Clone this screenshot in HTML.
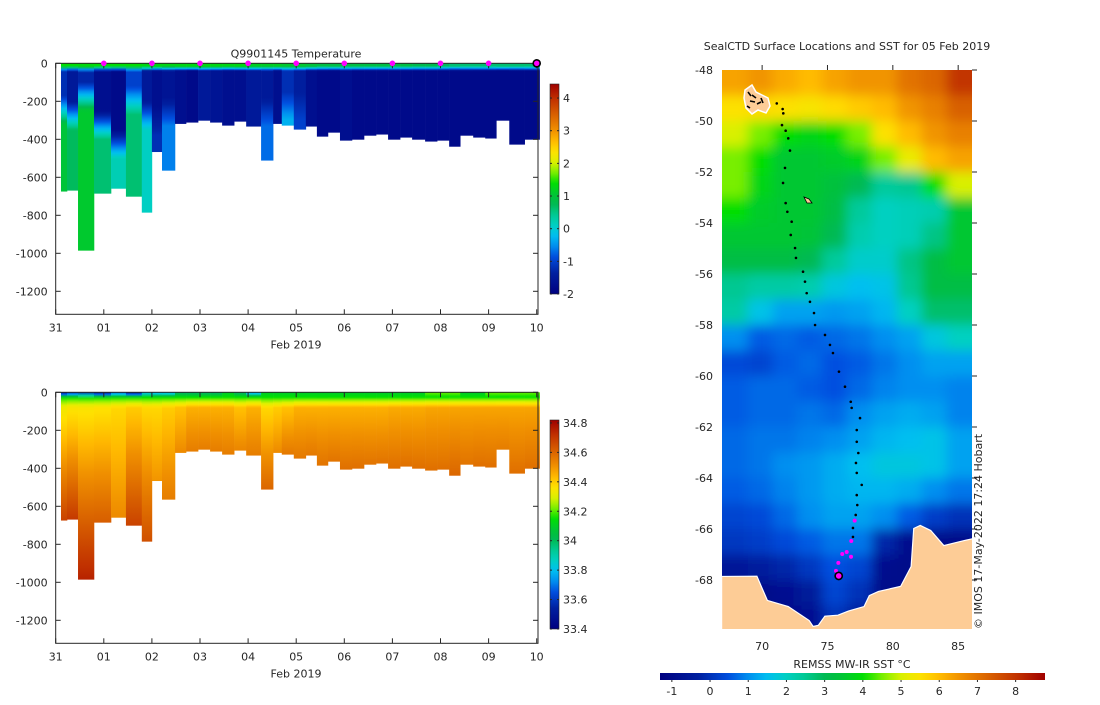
<!DOCTYPE html>
<html><head><meta charset="utf-8">
<style>
body{margin:0;background:#fff;}
svg text{font-family:"DejaVu Sans","Liberation Sans",sans-serif;font-size:11px;fill:#262626;}
</style></head>
<body>
<svg id="fig" width="1100" height="700" viewBox="0 0 1100 700" xmlns="http://www.w3.org/2000/svg">
<defs>
<clipPath id="mapclip"><rect x="722" y="70" width="250" height="559"/></clipPath>
<filter id="blur" x="-5%" y="-5%" width="110%" height="110%"><feGaussianBlur stdDeviation="6"/></filter>
</defs>
<g id="top"></g>
<g id="bot"></g>
<g id="map"></g>
</svg>
<script>
// ---- profile chart data ----
const colStart=[0.11,0.235,0.464,0.796,1.15,1.46,1.79,2.00,2.21,2.48,2.71,2.96,3.21,3.46,3.71,3.96,4.27,4.52,4.70,4.95,5.20,5.43,5.66,5.91,6.16,6.41,6.66,6.91,7.16,7.41,7.68,7.93,8.18,8.41,8.68,8.93,9.16,9.43,9.75];
const colEnd=[0.235,0.464,0.796,1.15,1.46,1.79,2.00,2.21,2.48,2.71,2.96,3.21,3.46,3.71,3.96,4.27,4.52,4.70,4.95,5.20,5.43,5.66,5.91,6.16,6.41,6.66,6.91,7.16,7.41,7.68,7.93,8.18,8.41,8.68,8.93,9.16,9.43,9.75,10.06];
const maxDepth=[675,670,986,686,660,702,786,467,565,319,312,302,312,328,307,333,512,319,328,349,333,386,365,407,402,381,375,402,391,402,412,407,439,381,391,396,302,428,402];
const tSurf=[1.4,1.4,1.4,1.4,1.4,1.4,1.3,1.3,1.3,1.3,1.3,1.3,1.3,1.3,1.3,1.2,1.2,1.2,1.1,1.1,1.0,0.9,0.9,0.9,0.9,0.9,0.9,0.9,0.9,0.8,0.8,0.7,0.6,0.6,0.6,0.6,0.6,0.6,0.6];
const tMin=[-1.2,-1.5,-1.3,-1.7,-1.8,-1.0,-1.5,-1.7,-1.6,-1.7,-1.8,-1.5,-1.6,-1.7,-1.7,-1.5,-1.5,-1.7,-1.2,-1.4,-1.7,-1.8,-1.8,-1.7,-1.8,-1.8,-1.8,-1.8,-1.8,-1.8,-1.8,-1.8,-1.8,-1.8,-1.8,-1.8,-1.8,-1.8,-1.8];
const thermoDepth=[170,200,100,250,350,120,200,230,180,999,999,999,999,999,999,999,180,999,150,150,999,999,999,999,999,999,999,999,999,999,999,999,999,999,999,999,999,999,999];
const tDeep=[1.0,0.7,1.1,0.6,0.2,0.6,0.1,-1.2,-0.6,-1.7,-1.7,-1.7,-1.7,-1.7,-1.7,-1.7,-0.7,-1.7,-0.3,-1.0,-1.7,-1.7,-1.7,-1.7,-1.7,-1.7,-1.7,-1.7,-1.7,-1.7,-1.7,-1.7,-1.7,-1.7,-1.7,-1.7,-1.7,-1.7,-1.7];
const sSurf=[33.5,33.6,33.6,33.5,33.7,33.5,33.8,33.8,33.8,34.0,34.0,34.0,34.0,34.1,34.0,33.8,34.1,34.1,34.1,34.1,34.1,34.1,34.1,34.1,34.1,34.1,34.1,34.1,34.1,34.1,34.2,34.2,34.2,34.1,34.1,34.2,34.2,34.2,34.2];
const sMid=[34.33,34.35,34.35,34.36,34.38,34.4,34.38,34.38,34.4,34.42,34.45,34.45,34.45,34.45,34.42,34.45,34.38,34.4,34.42,34.45,34.45,34.45,34.45,34.45,34.45,34.45,34.45,34.46,34.46,34.46,34.47,34.47,34.47,34.47,34.47,34.47,34.47,34.47,34.47];
const sDeep=[34.68,34.7,34.75,34.62,34.52,34.68,34.65,34.5,34.55,34.52,34.55,34.55,34.55,34.55,34.53,34.55,34.6,34.52,34.56,34.56,34.56,34.57,34.57,34.58,34.58,34.57,34.57,34.58,34.58,34.58,34.58,34.58,34.6,34.57,34.58,34.58,34.55,34.58,34.58];
const dayTicks=[0,1,2,3,4,5,6,7,8,9,10];
const dayLabels=['31','01','02','03','04','05','06','07','08','09','10'];
const depthTicks=[0,-200,-400,-600,-800,-1000,-1200];
const tBarTicks=[4,3,2,1,0,-1,-2];
const sBarTicks=[34.8,34.6,34.4,34.2,34,33.8,33.6,33.4];
const markerDays=[1,2,3,4,5,6,7,8,9];
// ---- map data ----
const gridLon=[67.95,69.85,71.75,73.65,75.55,77.45,79.35,81.25,83.15,85.05];
const gridLat=[-48.5,-49.5,-50.5,-51.5,-52.5,-53.5,-54.5,-55.5,-56.5,-57.5,-58.5,-59.5,-60.5,-61.5,-62.5,-63.5,-64.5,-65.5,-66.5,-67.5,-68.5,-69.5];
const sst=[
[6.3,6.5,6.2,6.0,6.3,6.5,6.5,7.0,7.2,8.0],
[5.5,5.6,5.5,5.4,5.6,5.8,6.0,6.5,6.8,7.3],
[5.0,4.5,4.0,3.8,4.0,4.5,5.5,6.0,6.5,6.8],
[4.5,4.0,3.5,3.5,3.6,3.8,4.5,5.2,6.0,6.3],
[4.5,3.8,3.5,3.5,3.3,3.0,2.4,2.5,4.0,5.0],
[4.0,3.6,3.5,3.5,3.2,2.4,2.0,2.1,2.2,3.5],
[3.5,3.5,3.5,3.4,3.0,2.2,2.0,2.1,2.6,3.5],
[3.2,3.2,3.2,3.0,2.4,1.9,1.9,2.6,3.2,3.5],
[2.5,2.3,2.3,2.2,1.7,1.5,1.6,2.5,3.2,3.2],
[2.3,1.6,1.2,1.2,1.1,1.2,1.4,2.0,2.8,2.8],
[1.0,0.6,0.7,0.6,0.7,0.8,1.0,1.2,1.7,2.0],
[0.4,0.3,0.6,0.7,0.5,0.6,0.8,1.0,1.2,1.2],
[0.6,0.7,0.7,0.6,0.5,0.7,0.9,1.0,1.0,0.9],
[0.6,0.7,0.7,0.8,0.7,1.0,1.2,1.3,1.2,0.9],
[0.7,0.8,0.8,0.9,1.0,1.2,1.4,1.5,1.6,1.2],
[0.7,0.8,1.0,1.1,1.3,1.5,1.7,1.7,1.6,1.2],
[0.6,0.7,0.9,1.1,1.3,1.4,1.4,1.3,1.0,0.8],
[0.3,0.4,0.7,1.0,1.2,1.2,1.0,0.6,0.2,0.0],
[0.1,0.2,0.4,0.6,0.8,0.8,-0.2,-0.9,-1.0,-1.0],
[-0.6,-0.4,-0.2,0.1,0.5,0.3,-0.9,-1.0,-1.0,-1.0],
[-1.0,-1.0,-0.8,-0.5,0.3,0.0,-1.0,-1.0,-1.0,-1.0],
[-1.0,-1.0,-1.0,-0.8,0.0,-0.5,-1.0,-1.0,-1.0,-1.0]];
const trackLon=[71.12,71.57,71.62,71.52,71.80,72.00,72.13,71.75,71.60,71.80,71.93,72.26,72.19,72.52,72.59,73.13,73.28,73.41,73.66,73.97,74.05,74.81,75.19,75.42,75.88,76.34,76.78,76.85,77.49,77.24,77.24,77.36,77.18,77.24,77.62,77.24,77.28,77.16,76.95,76.95];
const trackLat=[-49.31,-49.53,-49.70,-50.16,-50.38,-50.68,-51.16,-51.84,-52.43,-53.22,-53.56,-53.95,-54.47,-54.98,-55.37,-55.91,-56.30,-56.75,-57.09,-57.53,-58.00,-58.39,-58.78,-59.10,-59.83,-60.42,-61.01,-61.25,-61.65,-62.12,-62.58,-63.02,-63.41,-63.80,-64.27,-64.67,-65.06,-65.45,-65.96,-66.31];
const recentLon=[77.08,76.82,76.47,76.13,76.80,75.83,75.65];
const recentLat=[-65.67,-66.47,-66.90,-66.98,-67.09,-67.33,-67.64];
const lastLon=[75.86], lastLat=[-67.84];
const landLon=[66.9,69.6,70.0,70.4,72.0,73.6,73.9,74.3,74.8,75.8,76.6,77.8,78.2,78.9,80.6,81.4,81.6,82.1,82.9,83.9,85.5,86.2,86.2,66.9];
const landLat=[-67.86,-67.85,-68.33,-68.8,-69.04,-69.59,-69.82,-69.78,-69.42,-69.38,-69.22,-69.04,-68.61,-68.45,-68.25,-67.47,-65.98,-65.86,-66.06,-66.65,-66.45,-66.37,-69.95,-69.95];
const latTicks=[-48,-50,-52,-54,-56,-58,-60,-62,-64,-66,-68];
const lonTicks=[70,75,80,85];
const sstTicks=[-1,0,1,2,3,4,5,6,7,8];

const NS='http://www.w3.org/2000/svg';
function mk(parent,tag,attrs,txt){const e=document.createElementNS(NS,tag);for(const k in attrs)e.setAttribute(k,attrs[k]);if(txt!==undefined)e.textContent=txt;parent.appendChild(e);return e;}
const CM=[[0,0,0,128],[0.1,0,32,160],[0.18,0,80,224],[0.23,0,144,240],[0.28,0,192,240],[0.33,0,208,192],[0.38,0,200,144],[0.43,0,184,80],[0.48,0,200,48],[0.53,0,224,0],[0.58,128,240,0],[0.63,224,240,0],[0.68,255,224,0],[0.73,255,184,0],[0.78,240,144,0],[0.83,224,112,0],[0.88,208,80,0],[0.93,192,48,0],[1,160,0,0]];
function jet(v){v=Math.max(0,Math.min(1,v));for(let k=1;k<CM.length;k++){if(v<=CM[k][0]){const a=CM[k-1],b=CM[k],f=(v-a[0])/(b[0]-a[0]);return `rgb(${Math.round(a[1]+f*(b[1]-a[1]))},${Math.round(a[2]+f*(b[2]-a[2]))},${Math.round(a[3]+f*(b[3]-a[3]))})`;}}return 'rgb(160,0,0)';}
const defs=document.querySelector('defs');

function section(g,id,y0,title,vmin,vmax,prof,barTicks,barFmt,barTop,barBot){
  const xL=55.7,xR=538,yBot=y0+251;
  const xs=d=>xL+d*48.1, ys=z=>y0+z*0.19;
  for(let i=0;i<colStart.length;i++){
    const gid=id+'g'+i;
    const lg=mk(defs,'linearGradient',{id:gid,x1:0,y1:0,x2:0,y2:1});
    const N=60;
    for(let k=0;k<=N;k++){const z=maxDepth[i]*k/N;mk(lg,'stop',{offset:(k/N),'stop-color':jet((prof(i,z)-vmin)/(vmax-vmin))});}
    const r=mk(g,'rect',{x:xs(colStart[i]),y:ys(0),width:xs(colEnd[i])-xs(colStart[i])+0.3,height:maxDepth[i]*0.19,fill:`url(#${gid})`});
    
    
  }
  const fr=mk(g,'rect',{x:xL,y:y0,width:xR-xL,height:yBot-y0,fill:'none',stroke:'#262626','stroke-width':1});
  
  depthTicks.forEach(t=>{const y=ys(-t);
    mk(g,'line',{x1:xL,x2:xL+5,y1:y,y2:y,stroke:'#262626'});mk(g,'line',{x1:xR,x2:xR-5,y1:y,y2:y,stroke:'#262626'});
    const tx=mk(g,'text',{x:xL-8,y:y+4,'text-anchor':'end'},String(t));
    });
  dayTicks.forEach((d,i)=>{const x=xs(d);
    mk(g,'line',{x1:x,x2:x,y1:yBot,y2:yBot-5,stroke:'#262626'});mk(g,'line',{x1:x,x2:x,y1:y0,y2:y0+5,stroke:'#262626'});
    const tx=mk(g,'text',{x:x,y:yBot+17,'text-anchor':'middle'},dayLabels[i]);
    });
  const xl=mk(g,'text',{x:296,y:yBot+34,'text-anchor':'middle'},'Feb 2019');
  
  if(title){const tt=mk(g,'text',{x:296,y:y0-6,'text-anchor':'middle'},title);
    }
  const cg=mk(defs,'linearGradient',{id:id+'cb',x1:0,y1:1,x2:0,y2:0});
  for(let k=0;k<=40;k++)mk(cg,'stop',{offset:k/40,'stop-color':jet(k/40)});
  const cb=mk(g,'rect',{x:550,y:barTop,width:9,height:barBot-barTop,fill:`url(#${id}cb)`,stroke:'#262626','stroke-width':0.6});
  
  barTicks.forEach(t=>{const y=barBot-(t-vmin)/(vmax-vmin)*(barBot-barTop);
    mk(g,'line',{x1:550,x2:552,y1:y,y2:y,stroke:'#262626'});mk(g,'line',{x1:557,x2:559,y1:y,y2:y,stroke:'#262626'});
    const tx=mk(g,'text',{x:563,y:y+4},barFmt(t));
    });
  return {xs,ys};
}
function lerpK(knots,z){for(let k=1;k<knots.length;k++){if(z<=knots[k][0]){const a=knots[k-1],b=knots[k];const f=(b[0]===a[0])?0:(z-a[0])/(b[0]-a[0]);return a[1]+f*(b[1]-a[1]);}}return knots[knots.length-1][1];}
function tProf(i,z){const th=thermoDepth[i];return lerpK([[0,tSurf[i]],[15,tSurf[i]],[40,tMin[i]],[th,tMin[i]],[th+150,tDeep[i]],[5000,tDeep[i]]],z);}
function sProf(i,z){return lerpK([[0,sSurf[i]],[6,sSurf[i]],[25,34.15],[80,sMid[i]],[Math.max(maxDepth[i],81),sDeep[i]],[5000,sDeep[i]]],z);}

const gt=document.getElementById('top'),gb=document.getElementById('bot');
const T=section(gt,'t',63.3,'Q9901145  Temperature',-2,4.43,tProf,tBarTicks,t=>String(t),84,294);
section(gb,'s',392.3,null,33.4,34.82,sProf,sBarTicks,t=>String(+t.toFixed(1)),420,629);
markerDays.forEach(d=>{const c=mk(gt,'circle',{cx:T.xs(d),cy:63.3,r:2.8,fill:'#ff00ff'});
  });
{const c=mk(gt,'circle',{cx:T.xs(10),cy:63.3,r:3.5,fill:'#ff00ff',stroke:'#000','stroke-width':1.6});
 }

// ---- map ----
const gm=document.getElementById('map');
const lx=lon=>722+(lon-66.93)*13.07, ly=lat=>70+(-48-lat)*25.5;
const sv=v=>jet((v+1.31)/(8.76+1.31));
const field=mk(gm,'g',{'clip-path':'url(#mapclip)'});

const fb=mk(field,'g',{filter:'url(#blur)'});
const halfW=0.95, halfH=0.5;
for(let r=0;r<gridLat.length;r++)for(let c=0;c<gridLon.length;c++){
  let x0=lx(gridLon[c]-halfW),x1=lx(gridLon[c]+halfW),y0=ly(gridLat[r]+halfH),y1=ly(gridLat[r]-halfH);
  if(c===0)x0-=25; if(c===gridLon.length-1)x1+=25; if(r===0)y0-=25; if(r===gridLat.length-1)y1+=25;
  const e=mk(fb,'rect',{x:x0,y:y0,width:x1-x0+0.5,height:y1-y0+0.5,fill:sv(sst[r][c])});
  
}
const land=mk(field,'polygon',{points:landLon.map((l,i)=>lx(l)+','+ly(landLat[i])).join(' '),fill:'#fdcc96',stroke:'#fff','stroke-width':1.2});

const kg=mk(gm,'polygon',{points:'745,90 752,85 756,92 762,95 768,98 770,106 766,113 758,110 752,114 746,108 744,98',fill:'#fdcc96',stroke:'#fff','stroke-width':1.5});

mk(gm,'path',{d:'M748 92 l3 4 M752 95 l4 3 M750 101 l5 1 M757 104 l4 -2 M761 98 l2 5 M747 106 l3 2',stroke:'#000','stroke-width':1.6});
const hd=mk(gm,'polygon',{points:'804,197 809,199 812,203 807,203',fill:'#fdcc96',stroke:'#000','stroke-width':0.8});

trackLon.forEach((l,i)=>{const c=mk(gm,'circle',{cx:lx(l),cy:ly(trackLat[i]),r:1.3,fill:'#000'});
  });
recentLon.forEach((l,i)=>{const c=mk(gm,'circle',{cx:lx(l),cy:ly(recentLat[i]),r:2,fill:'#ff00ff'});
  });
{const c=mk(gm,'circle',{cx:lx(lastLon[0]),cy:ly(lastLat[0]),r:3.6,fill:'#ff00ff',stroke:'#000','stroke-width':1.6});
 }
latTicks.forEach(t=>{const y=ly(t);mk(gm,'line',{x1:972,x2:977,y1:y,y2:y,stroke:'#262626'});
  const tx=mk(gm,'text',{x:713,y:y+4,'text-anchor':'end'},String(t));
  });
lonTicks.forEach(t=>{const x=lx(t);mk(gm,'line',{x1:x,x2:x,y1:70,y2:65,stroke:'#262626'});
  const tx=mk(gm,'text',{x:x,y:650,'text-anchor':'middle'},String(t));
  });
{const t=mk(gm,'text',{x:847,y:50,'text-anchor':'middle'},'SealCTD Surface Locations and SST for 05 Feb 2019');
 
 const c=mk(gm,'text',{x:0,y:0,transform:'translate(982,629) rotate(-90)','font-size':'9.5'},'© IMOS 17-May-2022 17:24 Hobart');
 
 const l=mk(gm,'text',{x:852,y:668,'text-anchor':'middle'},'REMSS MW-IR SST °C');
 }
const hg=mk(defs,'linearGradient',{id:'hcb',x1:0,y1:0,x2:1,y2:0});
for(let k=0;k<=40;k++)mk(hg,'stop',{offset:k/40,'stop-color':jet(k/40)});
{const r=mk(gm,'rect',{x:660,y:673,width:385,height:7,fill:'url(#hcb)'});
 }
sstTicks.forEach(t=>{const x=660+(t+1.31)*38.2;
  mk(gm,'line',{x1:x,x2:x,y1:680,y2:682,stroke:'#262626'});
  const tx=mk(gm,'text',{x:x,y:695,'text-anchor':'middle'},String(t));
  });
</script>
</body></html>
